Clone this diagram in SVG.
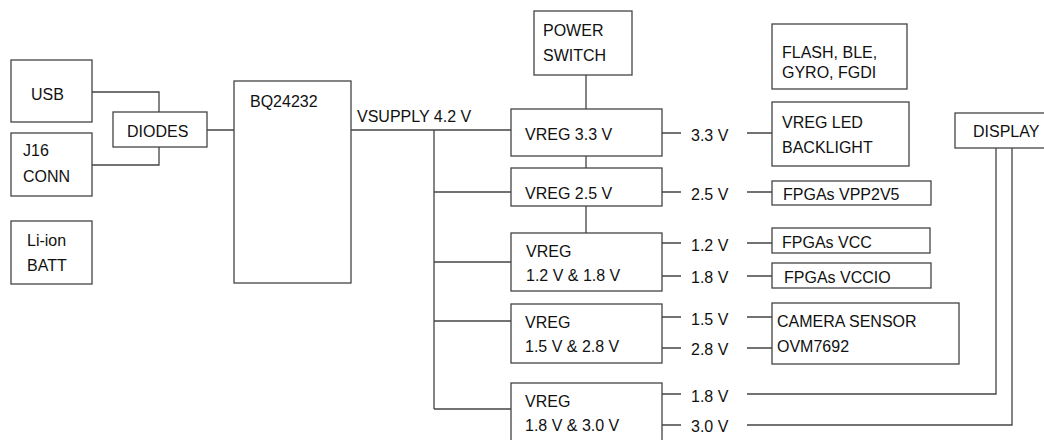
<svg xmlns="http://www.w3.org/2000/svg" width="1044" height="440" viewBox="0 0 1044 440">
<style>
rect{fill:#fff;stroke:#444;stroke-width:1.3}
text{font-family:"Liberation Sans",Arial,sans-serif;font-size:16px;fill:#111}
#connectors path{fill:none;stroke:#444;stroke-width:1.3}
</style>
<rect x="0" y="0" width="1044" height="440" style="stroke:none"/>
<g id="connectors">
<path d="M92 92H159V112M92 165H159V147M207 130H234"/>
<path d="M351 130H511M434 130V409M434 192H511M434 262H511M434 321H511M434 409H511"/>
<path d="M586 75V109M586 156V168M586 206V233"/>
<path d="M662 133H681M662 192H681M662 243H681M662 276H681M662 317H681M662 348H681M662 394H681M662 425H681"/>
<path d="M747 133H772M747 192H772M747 243H772M747 276H772M747 317H772M747 348H772"/>
<path d="M747 394H996V148M747 425H1012V148"/>
</g>
<g id="usb"><rect x="11" y="60" width="81" height="62"/><text x="31" y="100">USB</text></g>
<g id="j16"><rect x="11" y="133" width="81" height="63"/><text x="23" y="156">J16</text><text x="23" y="182">CONN</text></g>
<g id="liion"><rect x="11" y="221" width="81" height="63"/><text x="27" y="246">Li-ion</text><text x="27" y="271">BATT</text></g>
<g id="diodes"><rect x="113" y="112" width="94" height="35"/><text x="127" y="137">DIODES</text></g>
<g id="bq"><rect x="234" y="81" width="117" height="202"/><text x="250" y="107">BQ24232</text></g>
<g id="vsupply"><text x="357" y="122">VSUPPLY 4.2 V</text></g>
<g id="pwrsw"><rect x="534" y="11" width="98" height="64"/><text x="543" y="36">POWER</text><text x="543" y="61">SWITCH</text></g>
<g id="vreg33"><rect x="511" y="109" width="151" height="47"/><text x="525" y="140">VREG 3.3 V</text></g>
<g id="vreg25"><rect x="511" y="168" width="151" height="38"/><text x="525" y="199">VREG 2.5 V</text></g>
<g id="vreg1218"><rect x="511" y="233" width="151" height="58"/><text x="526" y="257">VREG</text><text x="526" y="281">1.2 V &amp; 1.8 V</text></g>
<g id="vreg1528"><rect x="511" y="304" width="151" height="59"/><text x="525" y="328">VREG</text><text x="525" y="352">1.5 V &amp; 2.8 V</text></g>
<g id="vreg1830"><rect x="511" y="383" width="151" height="60"/><text x="525" y="407">VREG</text><text x="525" y="431">1.8 V &amp; 3.0 V</text></g>
<g id="labels">
<text x="691" y="141">3.3 V</text>
<text x="691" y="200">2.5 V</text>
<text x="691" y="251">1.2 V</text>
<text x="691" y="283">1.8 V</text>
<text x="691" y="325">1.5 V</text>
<text x="691" y="355">2.8 V</text>
<text x="691" y="402">1.8 V</text>
<text x="691" y="432">3.0 V</text>
</g>
<g id="flash"><rect x="772" y="24" width="135" height="65"/><text x="782" y="58">FLASH, BLE,</text><text x="782" y="78">GYRO, FGDI</text></g>
<g id="ledbl"><rect x="772" y="102" width="137" height="64"/><text x="782" y="128">VREG LED</text><text x="782" y="153">BACKLIGHT</text></g>
<g id="vpp"><rect x="772" y="181" width="159" height="24"/><text x="783" y="200">FPGAs VPP2V5</text></g>
<g id="vcc"><rect x="772" y="228" width="158" height="25"/><text x="782" y="248">FPGAs VCC</text></g>
<g id="vccio"><rect x="772" y="263" width="159" height="25"/><text x="784" y="283">FPGAs VCCIO</text></g>
<g id="camera"><rect x="772" y="303" width="187" height="61"/><text x="777" y="327">CAMERA SENSOR</text><text x="777" y="352">OVM7692</text></g>
<g id="display"><rect x="955" y="113" width="95" height="35"/><text x="973" y="137">DISPLAY</text></g>
</svg>
